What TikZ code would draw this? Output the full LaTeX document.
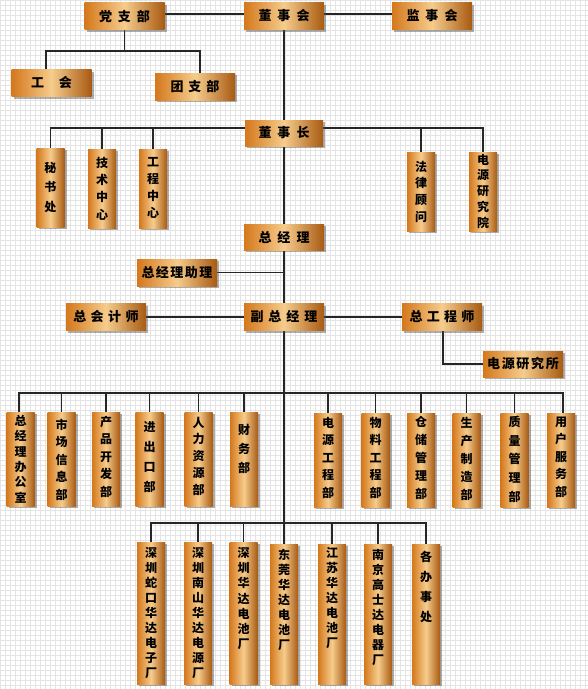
\documentclass[tikz,border=0pt]{standalone}
\usepackage{fontspec}
\setmainfont{Noto Sans CJK SC}
\usetikzlibrary{shadows}
\pgfdeclarelayer{gridlayer}
\pgfdeclarelayer{background}
\pgfsetlayers{gridlayer,background,main}
\definecolor{woodA}{HTML}{D4781C}
\definecolor{woodB}{HTML}{F6CC8C}
\definecolor{woodC}{HTML}{A85A12}
\definecolor{gridc}{HTML}{E4E4E4}
\newcommand\hg[1]{\hspace{#1pt}}
\newcommand\vt[5]{\parbox[c][#1pt][t]{#2pt}{\centering\fontsize{12}{#4}\selectfont\bfseries\vspace*{#3pt}#5\par}}
\tikzset{
  wood/.style={shade, left color=woodA, right color=woodC, middle color=woodB,
    drop shadow={shadow xshift=2pt, shadow yshift=-2pt, opacity=.45, fill=black!70}},
  hbox/.style={wood, minimum width=80pt, minimum height=27pt, inner sep=0pt,
    font=\fontsize{13}{15}\selectfont\bfseries},
  vbox/.style={wood, inner sep=0pt},
  conn/.style={line width=1.4pt, black!85},
}
\begin{document}
\begin{tikzpicture}[x=1pt,y=-1pt]
\useasboundingbox (0,0) rectangle (588,689);
\begin{pgfonlayer}{gridlayer}
  \fill[white] (0,0) rectangle (588,689);
  \foreach \i in {0,5,...,585} \draw[gridc, line width=0.5pt] (\i,0) -- (\i,689);
  \foreach \j in {0,5,...,685} \draw[gridc, line width=0.5pt] (0,\j) -- (588,\j);
\end{pgfonlayer}

% top level
\node[hbox] (dang) at (124.5,16) {党\hg{6}支\hg{6}部};
\node[hbox] (dsh) at (284,16) {董\hg{6}事\hg{6}会};
\node[hbox] (jsh) at (432,16) {监\hg{6}事\hg{6}会};
\node[hbox] (gonghui) at (51.5,83) {工\hg{15}会};
\node[hbox] (tuan) at (195,86.5) {团\hg{5}支\hg{5}部};

\node[hbox, minimum width=78pt, minimum height=26pt] (dsz) at (284,133) {董\hg{6}事\hg{6}长};
\node[vbox] (mishu) at (50.5,187.5) {\vt{79}{28}{14}{19.5}{秘\\书\\处}};
\node[vbox] (jishu) at (102,188.5) {\vt{79}{28}{8}{17.3}{技\\术\\中\\心}};
\node[vbox] (gcz) at (153,188.5) {\vt{79}{28}{8}{17.3}{工\\程\\中\\心}};
\node[vbox] (falv) at (421,191.5) {\vt{79}{28}{9}{16.7}{法\\律\\顾\\问}};
\node[vbox] (dyyjy) at (483,191.5) {\vt{79}{28}{2}{15.8}{电\\源\\研\\究\\院}};

\node[hbox, minimum height=26pt] (zjl) at (284,237) {总\hg{6}经\hg{6}理};
\node[hbox] (zl) at (177,272.5) {总\hg{1.5}经\hg{1.5}理\hg{1.5}助\hg{1.5}理};
\node[hbox] (zkj) at (106,317) {总\hg{4.5}会\hg{4.5}计\hg{4.5}师};
\node[hbox] (fzjl) at (284,317) {副\hg{5}总\hg{5}经\hg{5}理};
\node[hbox] (zgcs) at (442,317) {总\hg{4.3}工\hg{4.3}程\hg{4.3}师};
\node[hbox, minimum height=26pt] (dyyjs) at (523,364) {电\hg{1.7}源\hg{1.7}研\hg{1.7}究\hg{1.7}所};

% second row of departments
\node[vbox] (ban) at (20.5,459) {\vt{94}{28}{3}{15.4}{总\\经\\理\\办\\公\\室}};
\node[vbox] (shichang) at (61.5,459) {\vt{94}{28}{7}{17.5}{市\\场\\信\\息\\部}};
\node[vbox] (chanpin) at (106,459) {\vt{94}{28}{4}{17.5}{产\\品\\开\\发\\部}};
\node[vbox] (jinchu) at (149.5,459) {\vt{94}{28}{9}{20}{进\\出\\口\\部}};
\node[vbox] (renli) at (198.5,459) {\vt{94}{28}{5}{16.7}{人\\力\\资\\源\\部}};
\node[vbox] (caiwu) at (244,459) {\vt{94}{28}{12}{19}{财\\务\\部}};
\node[vbox] (dygc) at (328,460) {\vt{94}{28}{4}{17.5}{电\\源\\工\\程\\部}};
\node[vbox] (wuliao) at (375.5,460) {\vt{94}{28}{4}{17.5}{物\\料\\工\\程\\部}};
\node[vbox] (cangchu) at (421,460) {\vt{94}{28}{3}{18}{仓\\储\\管\\理\\部}};
\node[vbox] (shengchan) at (466.5,460) {\vt{94}{28}{4}{18}{生\\产\\制\\造\\部}};
\node[vbox] (zhiliang) at (514.5,460) {\vt{94}{28}{3}{18.7}{质\\量\\管\\理\\部}};
\node[vbox] (yonghu) at (561,460) {\vt{94}{28}{4}{17.5}{用\\户\\服\\务\\部}};

% third row of factories
\node[vbox] (shekou) at (151,613) {\vt{142}{28}{5}{15}{深\\圳\\蛇\\口\\华\\达\\电\\子\\厂}};
\node[vbox] (nanshan) at (198,613) {\vt{142}{28}{5}{15}{深\\圳\\南\\山\\华\\达\\电\\源\\厂}};
\node[vbox] (szdc) at (243.5,613) {\vt{142}{28}{5}{15.3}{深\\圳\\华\\达\\电\\池\\厂}};
\node[vbox] (dongguan) at (284,614) {\vt{140}{28}{5}{15}{东\\莞\\华\\达\\电\\池\\厂}};
\node[vbox] (jiangsu) at (332,614) {\vt{140}{28}{3}{15}{江\\苏\\华\\达\\电\\池\\厂}};
\node[vbox] (nanjing) at (378,614) {\vt{140}{28}{5}{15}{南\\京\\高\\士\\达\\电\\器\\厂}};
\node[vbox] (geban) at (426,614) {\vt{140}{28}{7}{20}{各\\办\\事\\处}};

\coordinate (b1) at (125,51);
\coordinate (b2) at (0,128);
\coordinate (b3) at (0,393);
\coordinate (b4) at (0,524);

\begin{pgfonlayer}{background}
  \draw[conn] ([yshift=2pt]dang.east) -- ([yshift=2pt]dsh.west);
  \draw[conn] ([yshift=2pt]dsh.east) -- ([yshift=2pt]jsh.west);
  \draw[conn] (dang.south) -- (dang.south |- b1);
  \draw[conn] ([xshift=-5.5pt]gonghui.north) -- ++(0,-18.5) -| ([xshift=5pt]tuan.north);
  \draw[conn] (dsh.south) -- (dsh.south |- dongguan.north);
  \draw[conn] (mishu.north) |- ([yshift=5pt]dsz.west);
  \draw[conn] (jishu.north) -- (jishu.north |- b2);
  \draw[conn] (gcz.north) -- (gcz.north |- b2);
  \draw[conn] ([yshift=5pt]dsz.east) -| (dyyjy.north);
  \draw[conn] (falv.north) -- (falv.north |- b2);
  \draw[conn] (zl.east) -- (zl.east -| dsh.south);
  \draw[conn] (zkj.east) -- (fzjl.west);
  \draw[conn] (fzjl.east) -- (zgcs.west);
  \draw[conn] ([xshift=1pt]zgcs.south) |- (dyyjs.west);
  \draw[conn] ([xshift=-1.5pt]ban.north) -- ++(0,-19) -| ([xshift=2pt]yonghu.north);
  \foreach \n in {shichang,chanpin,jinchu,renli,caiwu,dygc,wuliao,cangchu,shengchan,zhiliang}
    \draw[conn] (\n.north) -- (\n.north |- b3);
  \draw[conn] (shekou.north) -- ++(0,-19) -| (geban.north);
  \foreach \n in {nanshan,szdc,jiangsu,nanjing}
    \draw[conn] (\n.north) -- (\n.north |- b4);
\end{pgfonlayer}
\end{tikzpicture}
\end{document}
